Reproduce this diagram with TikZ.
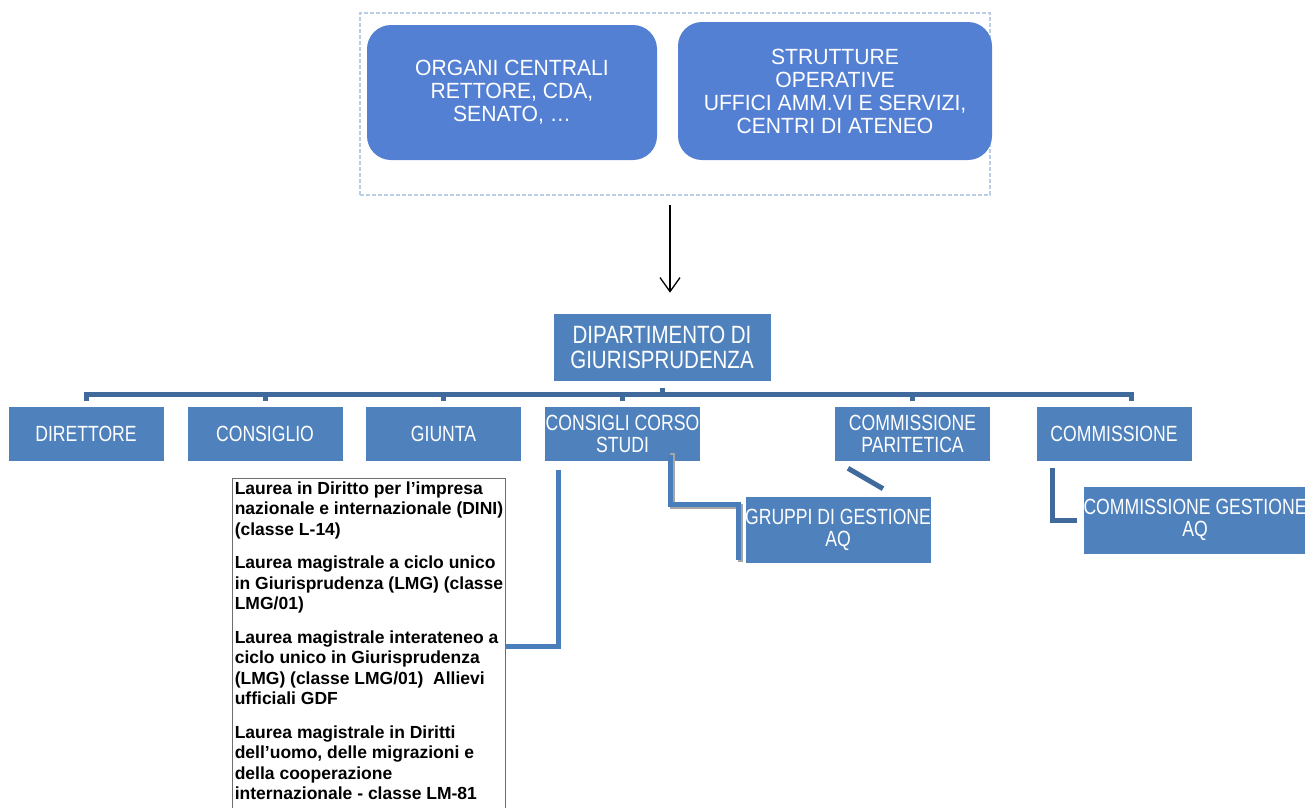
\documentclass[tikz,border=0pt]{standalone}
\usepackage{fontspec}
\setmainfont{Liberation Sans}
\newfontfamily\topfont[FakeStretch=0.96]{Liberation Sans}
\newfontfamily\condfont[FakeStretch=0.8]{Liberation Sans}
\newfontfamily\deptfont[FakeStretch=0.82]{Liberation Sans}
\usetikzlibrary{arrows.meta}
\definecolor{topfill}{RGB}{84,128,212}
\definecolor{boxfill}{RGB}{79,129,189}
\definecolor{barcol}{RGB}{64,105,156}
\definecolor{conncol}{RGB}{74,126,187}
\definecolor{framecol}{RGB}{185,205,229}
\definecolor{listborder}{RGB}{110,110,110}
\tikzset{
  topbox/.style={rectangle, rounded corners=24pt, fill=topfill, draw=none, text=white,
    align=center, inner sep=0pt, font=\topfont\fontsize{22}{23}\selectfont},
  lowbox/.style={rectangle, fill=boxfill, draw=white, line width=0.6pt, text=white,
    align=center, inner sep=0pt, minimum width=156pt, minimum height=55pt,
    font=\condfont\fontsize{22}{22}\selectfont},
  framebox/.style={rectangle, draw=framecol, dashed, dash pattern=on 4pt off 2pt, line width=1.2pt,
    inner sep=0pt},
  barline/.style={draw=barcol, line width=5pt},
  connline/.style={draw=conncol, line width=5pt},
  shadowline/.style={draw=black!35, line width=5pt},
  listbox/.style={rectangle, draw=listborder, line width=0.8pt, fill=white, inner sep=0pt},
  listtext/.style={align=left, inner sep=0pt, text=black,
    font=\bfseries\fontsize{17.5}{20.5}\selectfont},
  mainarrow/.style={draw=black, line width=1.3pt, -{Straight Barb[length=14pt,width=20pt,line width=1.3pt]}}
}
\begin{document}
\begin{tikzpicture}[x=1pt,y=-1pt]
\useasboundingbox (0,0) rectangle (1305,807);
\clip (0,0) rectangle (1305,807);

% top group
\node[framebox, minimum width=630pt, minimum height=182pt] (frame) at (675,104) {};
\node[topbox, minimum width=290pt, minimum height=135pt] (org) at (512,92.5)
  {ORGANI CENTRALI\\RETTORE, CDA,\\SENATO, \dots};
\node[topbox, minimum width=314pt, minimum height=138pt] (str) at (835,91)
  {STRUTTURE\\OPERATIVE\\UFFICI AMM.VI E SERVIZI,\\CENTRI DI ATENEO};

% department
\node[lowbox, minimum width=218pt, minimum height=68pt, font=\deptfont\fontsize{25}{25}\selectfont] (dept) at (662,347)
  {DIPARTIMENTO DI\\GIURISPRUDENZA};

\draw[mainarrow] ([xshift=-5pt,yshift=-9pt]frame.south) -- ([xshift=8pt,yshift=20pt]dept.north);

% children
\node[lowbox] (dir)  at (86,433.5)    {DIRETTORE};
\node[lowbox] (cons) at (265,433.5)   {CONSIGLIO};
\node[lowbox] (giu)  at (443.5,433.5) {GIUNTA};
\node[lowbox] (ccs)  at (622.5,433.5) {CONSIGLI CORSO\\STUDI};
\node[lowbox] (par)  at (912.5,433.5) {COMMISSIONE\\PARITETICA};
\node[lowbox] (com)  at (1114,433.5)  {COMMISSIONE};

% bar
\draw[barline] ([yshift=5pt]dir.north) -- ++(0,-6) -| ([xshift=17pt,yshift=5pt]com.north);
\draw[barline] ([yshift=5pt]cons.north) -- ++(0,-6);
\draw[barline] ([yshift=5pt]giu.north) -- ++(0,-6);
\draw[barline] ([yshift=5pt]ccs.north) -- ++(0,-6);
\draw[barline] ([yshift=5pt]par.north) -- ++(0,-6);
\draw[barline] ([yshift=-7pt]dept.south) -- ++(0,7);

% sub boxes
\node[lowbox, minimum width=184pt, minimum height=67pt] (gru) at (838,529.5) {GRUPPI DI GESTIONE\\AQ};
\node[lowbox, minimum width=222pt, minimum height=68pt] (cga) at (1195,520) {COMMISSIONE GESTIONE\\AQ};

% list of courses
\node[listbox, minimum width=273pt, minimum height=337pt] (laurea) at (368.5,646.5) {};
\node[listtext, anchor=north west] (ltext) at ([xshift=3pt,yshift=-4pt]laurea.north west)
  {Laurea in Diritto per l’impresa\\
   nazionale e internazionale (DINI)\\
   (classe L-14)\\[13pt]
   Laurea magistrale a ciclo unico\\
   in Giurisprudenza (LMG) (classe\\
   LMG/01)\\[13pt]
   Laurea magistrale interateneo a\\
   ciclo unico in Giurisprudenza\\
   (LMG) (classe LMG/01)~~Allievi\\
   ufficiali GDF\\[13pt]
   Laurea magistrale in Diritti\\
   dell’uomo, delle migrazioni e\\
   della cooperazione\\
   internazionale - classe LM-81};

% connectors
\draw[connline] ([xshift=-64.5pt,yshift=-9pt]ccs.south) |- (laurea.east);
\draw[shadowline] ([xshift=49.5pt,yshift=8pt]ccs.south) |- ([xshift=-4pt,yshift=23.5pt]gru.west) -- ([xshift=-4pt,yshift=-32.5pt]gru.west);
\draw[connline] ([xshift=47.5pt,yshift=6pt]ccs.south) |- ([xshift=-6pt,yshift=25.5pt]gru.west) -- ([xshift=-6pt,yshift=-30.5pt]gru.west);
\draw[barline] ([xshift=-64.5pt,yshift=-7pt]par.south) -- ([xshift=45pt,yshift=7pt]gru.north);
\draw[barline] ([xshift=-62pt,yshift=-7pt]com.south) |- ([xshift=-6pt]cga.west);
\end{tikzpicture}
\end{document}
